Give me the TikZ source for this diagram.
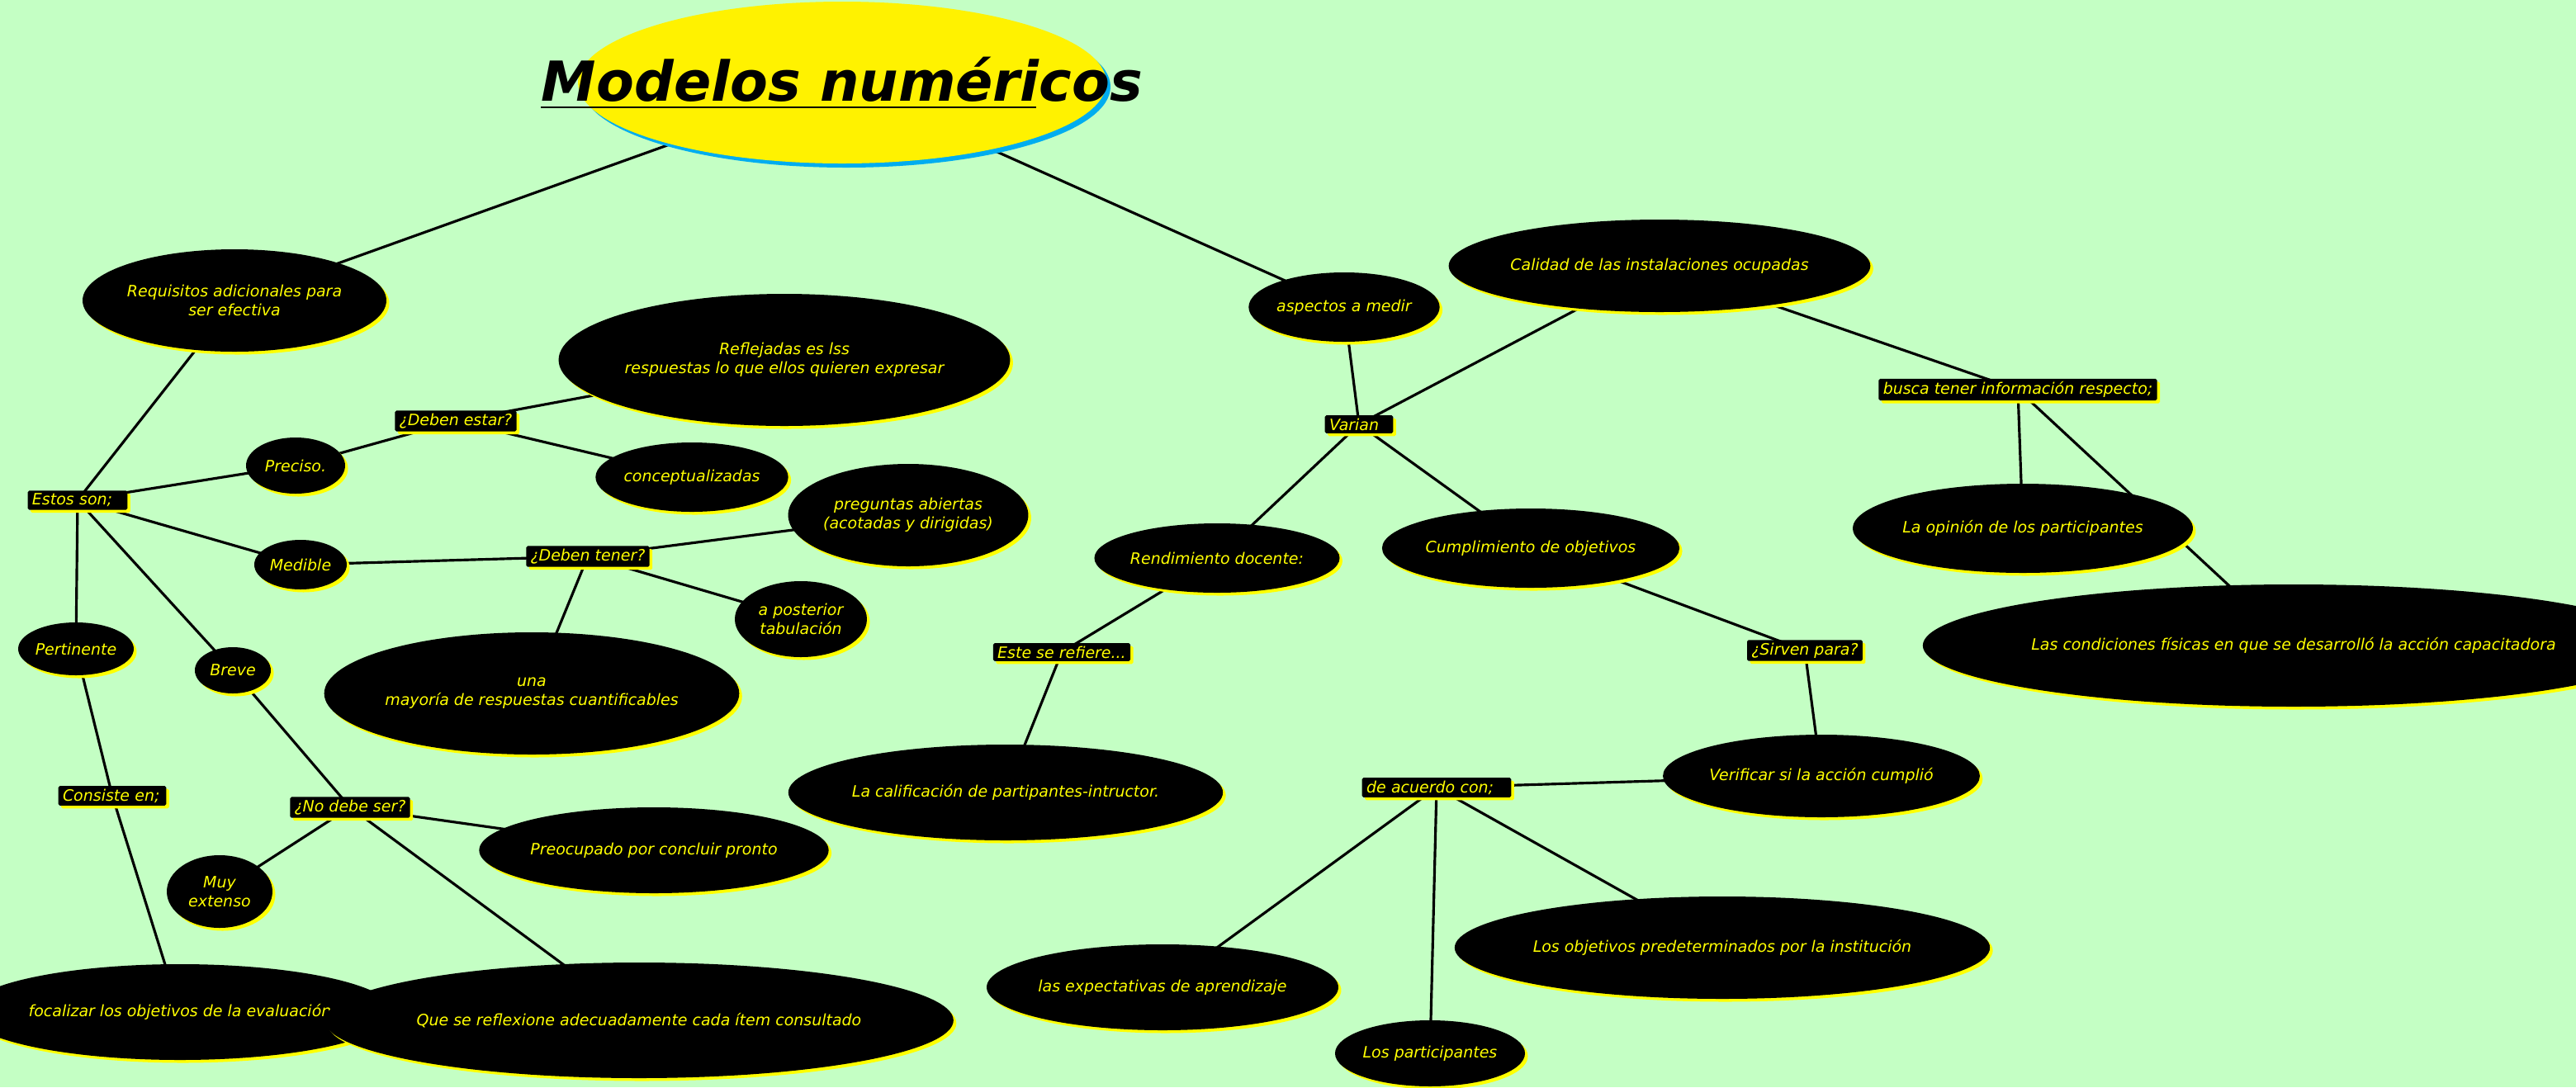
\documentclass[tikz,border=0pt]{standalone}
\usepackage{fontspec}
\setmainfont{DejaVu Sans}
\usetikzlibrary{shapes.geometric,shadows,backgrounds}
\definecolor{bg}{HTML}{C4FFC4}
\definecolor{yel}{HTML}{FFFF00}
\begin{document}
\begin{tikzpicture}[x=0.02cm,y=-0.02cm,
  E/.style 2 args={ellipse,fill=black,minimum width=#1*0.02cm,minimum height=#2*0.02cm,inner sep=0pt,align=center,
    text=yel,font=\fontsize{5.4}{6.6}\selectfont\itshape,
    drop shadow={fill=yel,shadow xshift=0.035cm,shadow yshift=-0.035cm,opacity=1}},
  L/.style={rectangle,fill=black,text=yel,inner xsep=1.5pt,inner ysep=1pt,rounded corners=0.5pt,
    font=\fontsize{5.4}{6.6}\selectfont\itshape,
    drop shadow={fill=yel,shadow xshift=0.035cm,shadow yshift=-0.035cm,opacity=1}},
  ln/.style={line width=0.9pt,black}]
\useasboundingbox (0,0) rectangle (1560,658.5);
\node[ellipse,fill=yellow,minimum width=320*0.02cm,minimum height=98*0.02cm,
  drop shadow={fill=cyan,shadow xshift=0.05cm,shadow yshift=-0.05cm,opacity=1}] (title) at (510,50) {};
\node[font=\fontsize{19}{22}\selectfont\bfseries\itshape,inner sep=0pt] (tt) at (510,48) {Modelos numéricos};
\draw[line width=0.4pt] (tt.south west) ++(0,3) -- ++(300,0) coordinate (ul);
\node[E={165}{62}] (req) at (142,182) {Requisitos adicionales para\\ ser efectiva};
\node[L,text width=55*0.02cm] (estos) at (47,303) {Estos son;};
\node[E={60}{34}] (preciso) at (179,282) {Preciso.};
\node[L] (destar) at (276,255) {¿Deben estar?};
\node[E={230}{80}] (refl) at (475,218) {Reflejadas es lss\\respuestas lo que ellos quieren expresar};
\node[E={105}{42}] (concep) at (419,289) {conceptualizadas};
\node[E={56}{30}] (medible) at (182,342) {Medible};
\node[L] (dtener) at (356,337) {¿Deben tener?};
\node[E={135}{62}] (preg) at (550,312) {preguntas abiertas\\(acotadas y dirigidas)};
\node[E={80}{46}] (apost) at (485,375) {a posterior\\tabulación};
\node[E={212}{74}] (una) at (322,420) {una\\mayoría de respuestas cuantificables};
\node[E={70}{32}] (pert) at (46,393) {Pertinente};
\node[E={46}{28}] (breve) at (141,406) {Breve};
\node[L,text width=60*0.02cm] (consiste) at (68,482) {Consiste en;};
\node[E={218}{58}] (focal) at (109,613) {focalizar los objetivos de la evaluación};
\node[L] (nodebe) at (212,489) {¿No debe ser?};
\node[E={64}{44}] (muy) at (133,540) {Muy\\extenso};
\node[E={178}{52}] (preoc) at (396,515) {Preocupado por concluir pronto};
\node[E={302}{70}] (refx) at (387,618) {Que se reflexione adecuadamente cada ítem consultado};
\node[E={112}{42}] (asp) at (814,186) {aspectos a medir};
\node[L,text width=36*0.02cm] (varian) at (823,257) {Varian};
\node[E={210}{56}] (calidad) at (1005,161) {Calidad de las instalaciones ocupadas};
\node[L] (busca) at (1222,236) {busca tener información respecto;};
\node[E={172}{54}] (opin) at (1225,320) {La opinión de los participantes};
\node[E={352}{74}] (cond) at (1389,391) {Las condiciones físicas en que se desarrolló la acción capacitadora};
\node[E={130}{42}] (rend) at (737,338) {Rendimiento docente:};
\node[E={155}{48}] (cumpl) at (927,332) {Cumplimiento de objetivos};
\node[L] (este) at (643,395) {Este se refiere...};
\node[E={218}{58}] (calif) at (609,480) {La calificación de partipantes-intructor.};
\node[L] (sirven) at (1093,394) {¿Sirven para?};
\node[E={162}{50}] (verif) at (1103,470) {Verificar si la acción cumplió};
\node[L,text width=85*0.02cm] (acuerdo) at (870,477) {de acuerdo con;};
\node[E={180}{52}] (expect) at (704,598) {las expectativas de aprendizaje};
\node[E={104}{40}] (part) at (866,638) {Los participantes};
\node[E={260}{62}] (objp) at (1043,574) {Los objetivos predeterminados por la institución};
\begin{scope}[on background layer]
\fill[bg] (0,0) rectangle (1560,658.5);
\draw[ln] (title.center) -- (req.center);
\draw[ln] (title.center) -- (asp.center);
\foreach \a/\b in {req/estos,estos/preciso,preciso/destar,destar/refl,destar/concep,estos/medible,
  medible/dtener,dtener/preg,dtener/apost,dtener/una,estos/pert,estos/breve,pert/consiste,consiste/focal,
  breve/nodebe,nodebe/muy,nodebe/preoc,nodebe/refx,asp/varian,varian/calidad,calidad/busca,busca/opin,
  busca/cond,varian/rend,varian/cumpl,rend/este,este/calif,cumpl/sirven,sirven/verif,verif/acuerdo,
  acuerdo/expect,acuerdo/part,acuerdo/objp}
  \draw[ln] (\a.center) -- (\b.center);
\end{scope}
\end{tikzpicture}
\end{document}
